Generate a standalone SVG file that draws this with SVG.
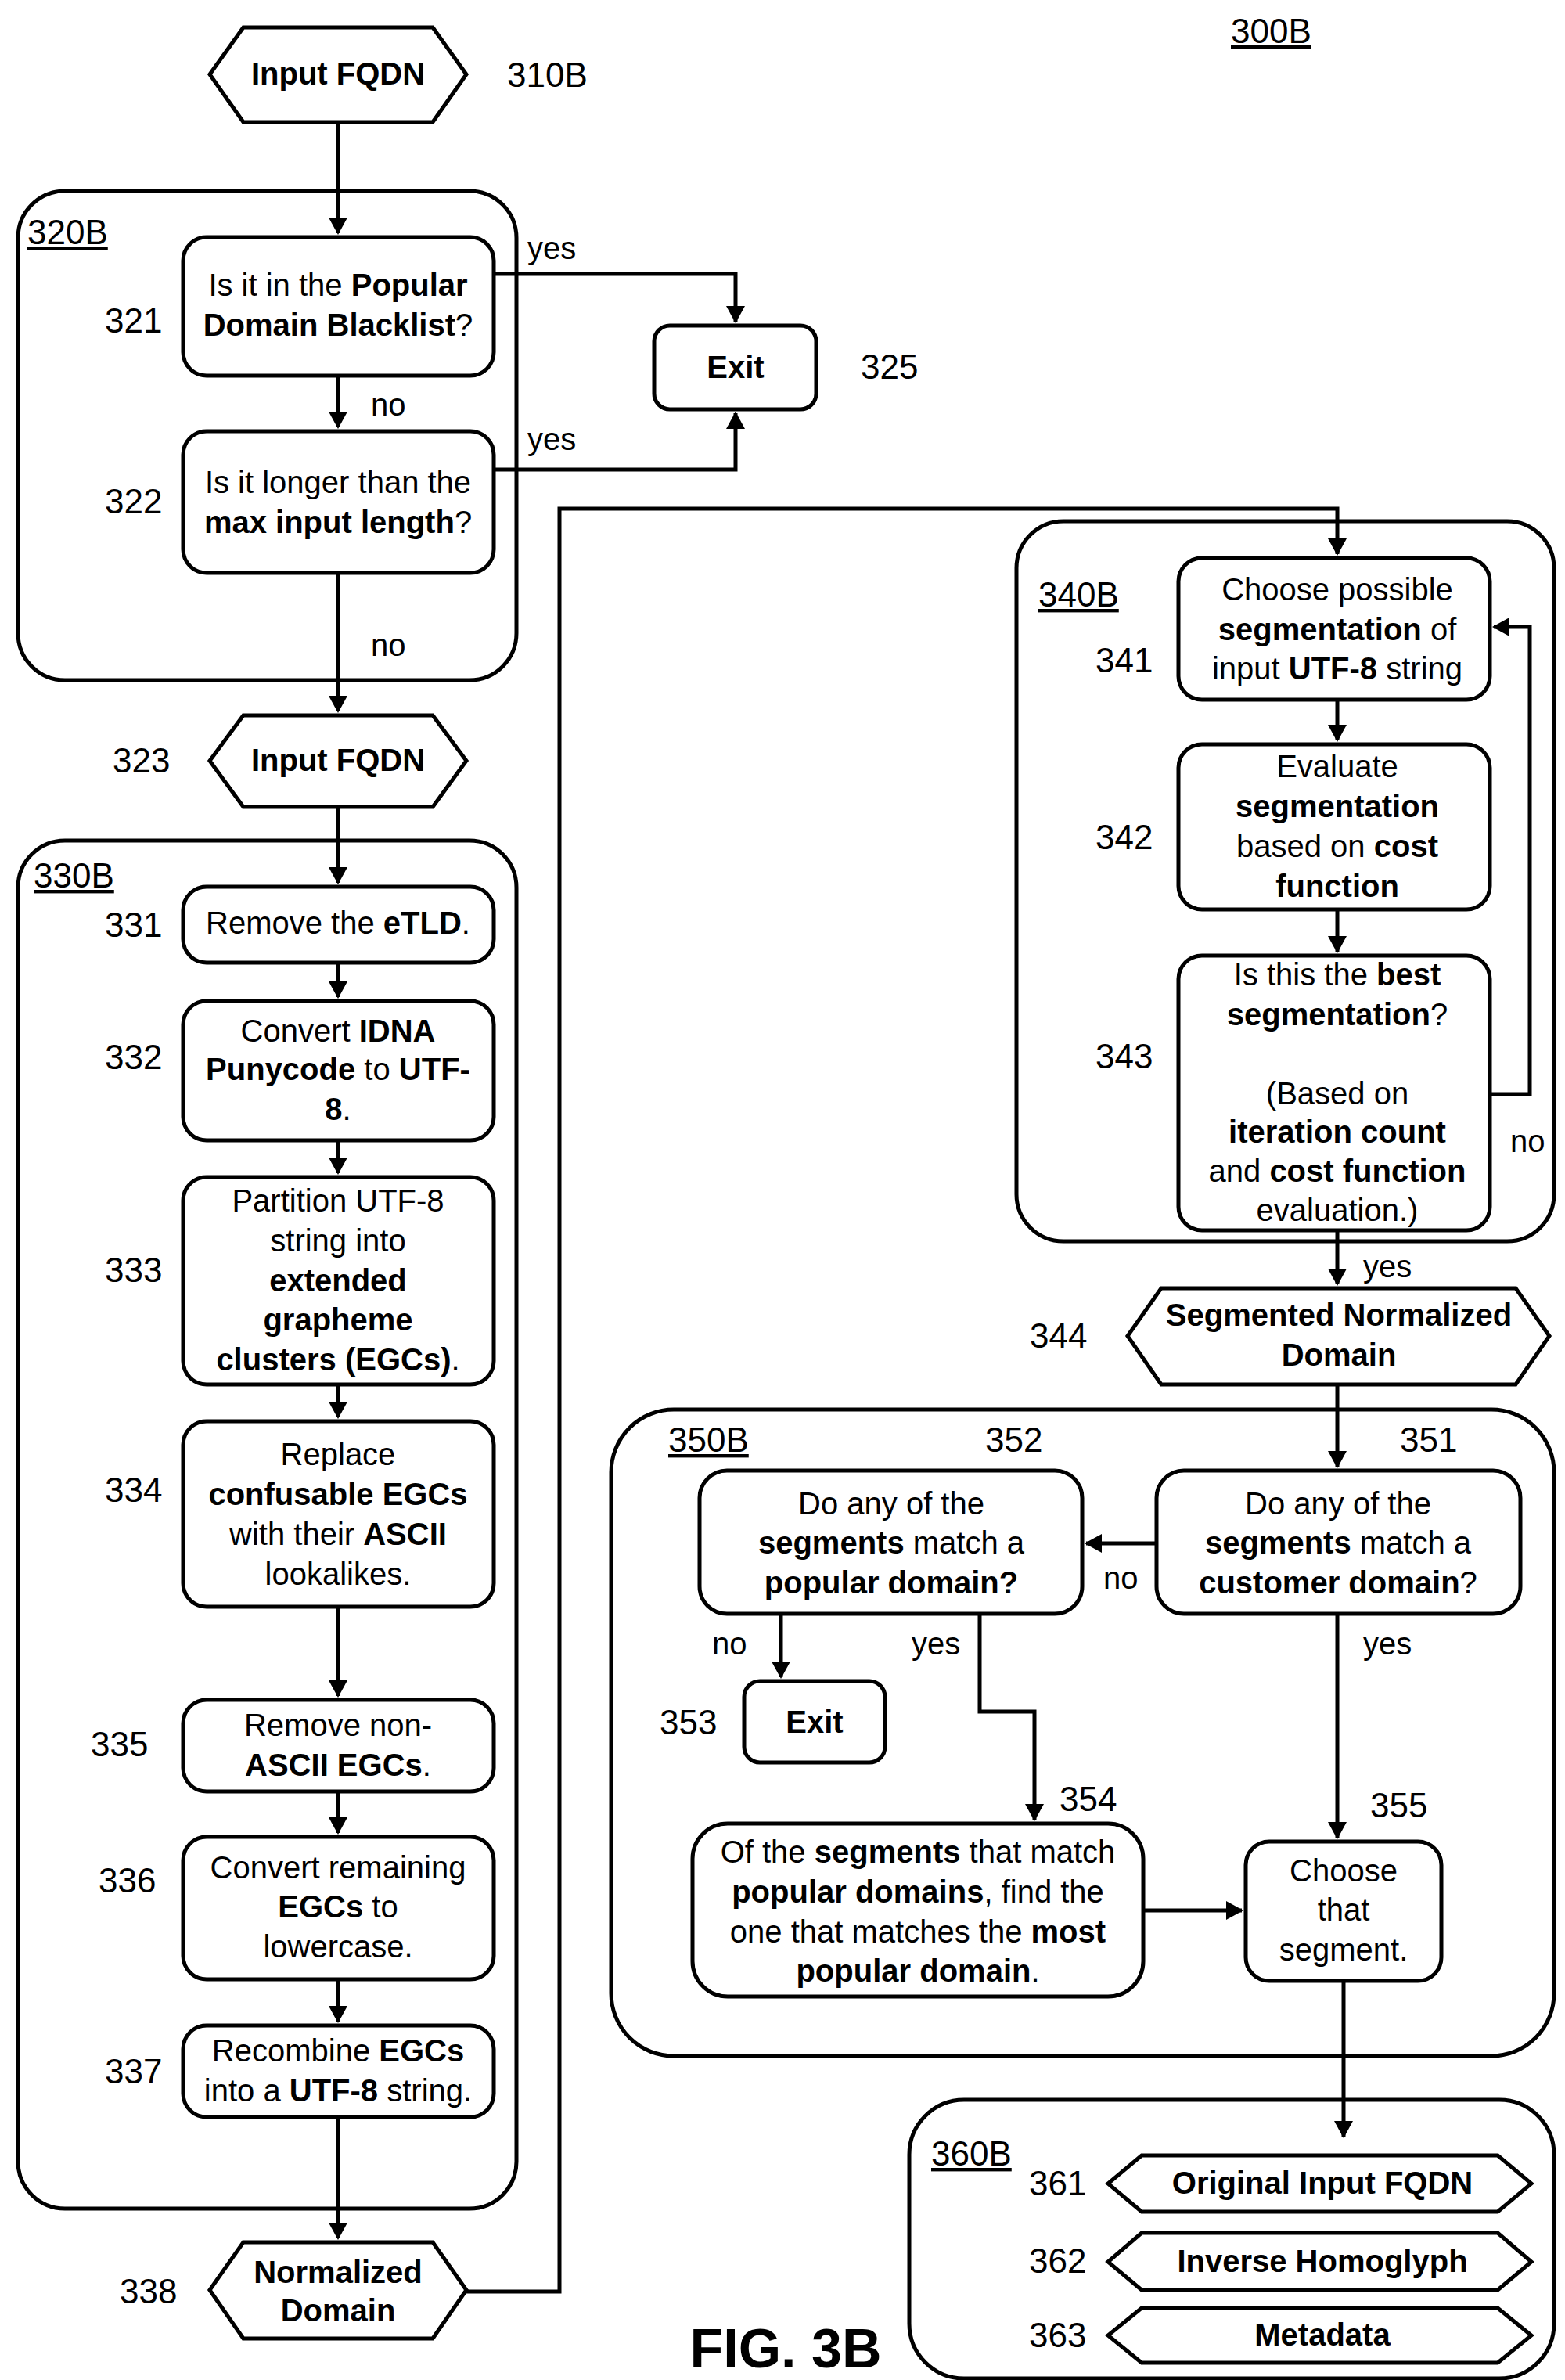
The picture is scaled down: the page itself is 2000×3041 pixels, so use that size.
<svg xmlns="http://www.w3.org/2000/svg" width="2000" height="3041" viewBox="0 0 2000 3041">
<defs>
<marker id="ah" markerWidth="22" markerHeight="24" refX="20" refY="12" orient="auto" markerUnits="userSpaceOnUse" viewBox="0 0 22 24"><path d="M0,0 L22,12 L0,24 z" fill="#000"/></marker>
</defs>
<style>
text{font-family:"Liberation Sans",Arial,sans-serif;font-size:40px;fill:#000}
.c{text-anchor:middle}
.b{font-weight:bold}
.n{font-size:44px}
.u{text-decoration:underline}
.box{fill:#fff;stroke:#000;stroke-width:5}
.cont{fill:none;stroke:#000;stroke-width:5}
.ln{fill:none;stroke:#000;stroke-width:5}
</style>
<rect width="2000" height="3041" fill="#fff"/>
<g id="containers">
<rect class="cont" x="23" y="244" width="637" height="625" rx="60"/>
<rect class="cont" x="23" y="1074" width="637" height="1748" rx="60"/>
<rect class="cont" x="1299" y="666" width="687" height="920" rx="60"/>
<rect class="cont" x="781" y="1801" width="1205" height="826" rx="80"/>
<rect class="cont" x="1162" y="2683" width="824" height="356" rx="70"/>
<text class="n u" x="35" y="312">320B</text>
<text class="n u" x="43" y="1134">330B</text>
<text class="n u" x="1327" y="775">340B</text>
<text class="n u" x="854" y="1855">350B</text>
<text class="n u" x="1190" y="2767">360B</text>
<text class="n u" x="1573" y="55">300B</text>
</g>
<g id="connectors">
<path class="ln" d="M432,156 V298" marker-end="url(#ah)"/>
<path class="ln" d="M432,480 V546" marker-end="url(#ah)"/>
<path class="ln" d="M631,350 H940 V411" marker-end="url(#ah)"/>
<path class="ln" d="M631,600 H940 V528" marker-end="url(#ah)"/>
<path class="ln" d="M432,732 V909" marker-end="url(#ah)"/>
<path class="ln" d="M432,1031 V1128" marker-end="url(#ah)"/>
<path class="ln" d="M432,1230 V1274" marker-end="url(#ah)"/>
<path class="ln" d="M432,1457 V1499" marker-end="url(#ah)"/>
<path class="ln" d="M432,1769 V1811" marker-end="url(#ah)"/>
<path class="ln" d="M432,2053 V2167" marker-end="url(#ah)"/>
<path class="ln" d="M432,2289 V2342" marker-end="url(#ah)"/>
<path class="ln" d="M432,2529 V2583" marker-end="url(#ah)"/>
<path class="ln" d="M432,2705 V2860" marker-end="url(#ah)"/>
<path class="ln" d="M596,2928 H715 V650 H1709 V708" marker-end="url(#ah)"/>
<path class="ln" d="M1709,894 V946" marker-end="url(#ah)"/>
<path class="ln" d="M1709,1162 V1216" marker-end="url(#ah)"/>
<path class="ln" d="M1904,1398 H1955 V801 H1909" marker-end="url(#ah)"/>
<path class="ln" d="M1709,1572 V1641" marker-end="url(#ah)"/>
<path class="ln" d="M1709,1769 V1874" marker-end="url(#ah)"/>
<path class="ln" d="M1478,1972 H1388" marker-end="url(#ah)"/>
<path class="ln" d="M998,2062 V2143" marker-end="url(#ah)"/>
<path class="ln" d="M1252,2062 V2187 H1322 V2325" marker-end="url(#ah)"/>
<path class="ln" d="M1461,2441 H1587" marker-end="url(#ah)"/>
<path class="ln" d="M1709,2062 V2348" marker-end="url(#ah)"/>
<path class="ln" d="M1717,2531 V2730" marker-end="url(#ah)"/>
<text x="674" y="331">yes</text>
<text x="674" y="575">yes</text>
<text x="474" y="531">no</text>
<text x="474" y="838">no</text>
<text x="1930" y="1472">no</text>
<text x="1742" y="1632">yes</text>
<text x="1410" y="2030">no</text>
<text x="910" y="2114">no</text>
<text x="1165" y="2114">yes</text>
<text x="1742" y="2114">yes</text>
</g>
<g id="n310B"><path class="box" d="M311,35 H553 L596,95 L553,156 H311 L268,95 Z"/><text class="c b" x="432" y="108">Input FQDN</text><text class="n" x="648" y="111">310B</text></g>
<g id="n321"><rect class="box" x="234" y="303" width="397" height="177" rx="30"/><text class="c" x="432" y="378">Is it in the <tspan class="b">Popular</tspan></text><text class="c" x="432" y="429"><tspan class="b">Domain Blacklist</tspan>?</text><text class="n" x="134" y="425">321</text></g>
<g id="n322"><rect class="box" x="234" y="551" width="397" height="181" rx="30"/><text class="c" x="432" y="630">Is it longer than the</text><text class="c" x="432" y="681"><tspan class="b">max input length</tspan>?</text><text class="n" x="134" y="656">322</text></g>
<g id="n325"><rect class="box" x="836" y="416" width="207" height="107" rx="20"/><text class="c b" x="940" y="483">Exit</text><text class="n" x="1100" y="484">325</text></g>
<g id="n323"><path class="box" d="M311,914 H553 L596,972 L553,1031 H311 L268,972 Z"/><text class="c b" x="432" y="985">Input FQDN</text><text class="n" x="144" y="987">323</text></g>
<g id="n331"><rect class="box" x="234" y="1133" width="397" height="97" rx="30"/><text class="c" x="432" y="1193">Remove the <tspan class="b">eTLD</tspan>.</text><text class="n" x="134" y="1197">331</text></g>
<g id="n332"><rect class="box" x="234" y="1279" width="397" height="178" rx="30"/><text class="c" x="432" y="1331">Convert <tspan class="b">IDNA</tspan></text><text class="c" x="432" y="1380"><tspan class="b">Punycode</tspan> to <tspan class="b">UTF-</tspan></text><text class="c" x="432" y="1431"><tspan class="b">8</tspan>.</text><text class="n" x="134" y="1366">332</text></g>
<g id="n333"><rect class="box" x="234" y="1504" width="397" height="265" rx="30"/><text class="c" x="432" y="1548">Partition UTF-8</text><text class="c" x="432" y="1599">string into</text><text class="c b" x="432" y="1650">extended</text><text class="c b" x="432" y="1700">grapheme</text><text class="c" x="432" y="1751"><tspan class="b">clusters (EGCs)</tspan>.</text><text class="n" x="134" y="1638">333</text></g>
<g id="n334"><rect class="box" x="234" y="1816" width="397" height="237" rx="30"/><text class="c" x="432" y="1872">Replace</text><text class="c b" x="432" y="1923">confusable EGCs</text><text class="c" x="432" y="1974">with their <tspan class="b">ASCII</tspan></text><text class="c" x="432" y="2025">lookalikes.</text><text class="n" x="134" y="1919">334</text></g>
<g id="n335"><rect class="box" x="234" y="2172" width="397" height="117" rx="30"/><text class="c" x="432" y="2218">Remove non-</text><text class="c" x="432" y="2269"><tspan class="b">ASCII EGCs</tspan>.</text><text class="n" x="116" y="2244">335</text></g>
<g id="n336"><rect class="box" x="234" y="2347" width="397" height="182" rx="30"/><text class="c" x="432" y="2400">Convert remaining</text><text class="c" x="432" y="2450"><tspan class="b">EGCs</tspan> to</text><text class="c" x="432" y="2501">lowercase.</text><text class="n" x="126" y="2418">336</text></g>
<g id="n337"><rect class="box" x="234" y="2588" width="397" height="117" rx="30"/><text class="c" x="432" y="2634">Recombine <tspan class="b">EGCs</tspan></text><text class="c" x="432" y="2685">into a <tspan class="b">UTF-8</tspan> string.</text><text class="n" x="134" y="2662">337</text></g>
<g id="n338"><path class="box" d="M311,2865 H553 L596,2926 L553,2988 H311 L268,2926 Z"/><text class="c b" x="432" y="2917">Normalized</text><text class="c b" x="432" y="2966">Domain</text><text class="n" x="153" y="2943">338</text></g>
<g id="n341"><rect class="box" x="1506" y="713" width="398" height="181" rx="30"/><text class="c" x="1709" y="767">Choose possible</text><text class="c" x="1709" y="818"><tspan class="b">segmentation</tspan> of</text><text class="c" x="1709" y="868">input <tspan class="b">UTF-8</tspan> string</text><text class="n" x="1400" y="859">341</text></g>
<g id="n342"><rect class="box" x="1506" y="951" width="398" height="211" rx="30"/><text class="c" x="1709" y="993">Evaluate</text><text class="c b" x="1709" y="1044">segmentation</text><text class="c" x="1709" y="1095">based on <tspan class="b">cost</tspan></text><text class="c b" x="1709" y="1146">function</text><text class="n" x="1400" y="1085">342</text></g>
<g id="n343"><rect class="box" x="1506" y="1221" width="398" height="351" rx="30"/><text class="c" x="1709" y="1259">Is this the <tspan class="b">best</tspan></text><text class="c" x="1709" y="1310"><tspan class="b">segmentation</tspan>?</text><text class="c" x="1709" y="1411">(Based on</text><text class="c b" x="1709" y="1460">iteration count</text><text class="c" x="1709" y="1510">and <tspan class="b">cost function</tspan></text><text class="c" x="1709" y="1560">evaluation.)</text><text class="n" x="1400" y="1365">343</text></g>
<g id="n344"><path class="box" d="M1484,1646 H1937 L1980,1707 L1937,1769 H1484 L1441,1707 Z"/><text class="c b" x="1711" y="1694">Segmented Normalized</text><text class="c b" x="1711" y="1745">Domain</text><text class="n" x="1316" y="1722">344</text></g>
<g id="n351"><rect class="box" x="1478" y="1879" width="465" height="183" rx="35"/><text class="c" x="1710" y="1935">Do any of the</text><text class="c" x="1710" y="1985"><tspan class="b">segments</tspan> match a</text><text class="c" x="1710" y="2036"><tspan class="b">customer domain</tspan>?</text><text class="n" x="1789" y="1855">351</text></g>
<g id="n352"><rect class="box" x="894" y="1879" width="489" height="183" rx="35"/><text class="c" x="1139" y="1935">Do any of the</text><text class="c" x="1139" y="1985"><tspan class="b">segments</tspan> match a</text><text class="c b" x="1139" y="2036">popular domain?</text><text class="n" x="1259" y="1855">352</text></g>
<g id="n353"><rect class="box" x="951" y="2148" width="180" height="104" rx="20"/><text class="c b" x="1041" y="2214">Exit</text><text class="n" x="843" y="2216">353</text></g>
<g id="n354"><rect class="box" x="885" y="2330" width="576" height="221" rx="45"/><text class="c" x="1173" y="2380">Of the <tspan class="b">segments</tspan> that match</text><text class="c" x="1173" y="2431"><tspan class="b">popular domains</tspan>, find the</text><text class="c" x="1173" y="2482">one that matches the <tspan class="b">most</tspan></text><text class="c" x="1173" y="2532"><tspan class="b">popular domain</tspan>.</text><text class="n" x="1354" y="2314">354</text></g>
<g id="n355"><rect class="box" x="1592" y="2353" width="250" height="178" rx="30"/><text class="c" x="1717" y="2404">Choose</text><text class="c" x="1717" y="2454">that</text><text class="c" x="1717" y="2505">segment.</text><text class="n" x="1751" y="2322">355</text></g>
<g id="n361"><path class="box" d="M1459,2754 H1914 L1957,2790 L1914,2826 H1459 L1416,2790 Z"/><text class="c b" x="1690" y="2803">Original Input FQDN</text><text class="n" x="1315" y="2805">361</text></g>
<g id="n362"><path class="box" d="M1459,2853 H1914 L1957,2890 L1914,2926 H1459 L1416,2890 Z"/><text class="c b" x="1690" y="2903">Inverse Homoglyph</text><text class="n" x="1315" y="2904">362</text></g>
<g id="n363"><path class="box" d="M1459,2949 H1914 L1957,2984 L1914,3019 H1459 L1416,2984 Z"/><text class="c b" x="1690" y="2997">Metadata</text><text class="n" x="1315" y="2999">363</text></g>
<text class="c b" x="1004" y="3025" style="font-size:70px">FIG. 3B</text>
</svg>
